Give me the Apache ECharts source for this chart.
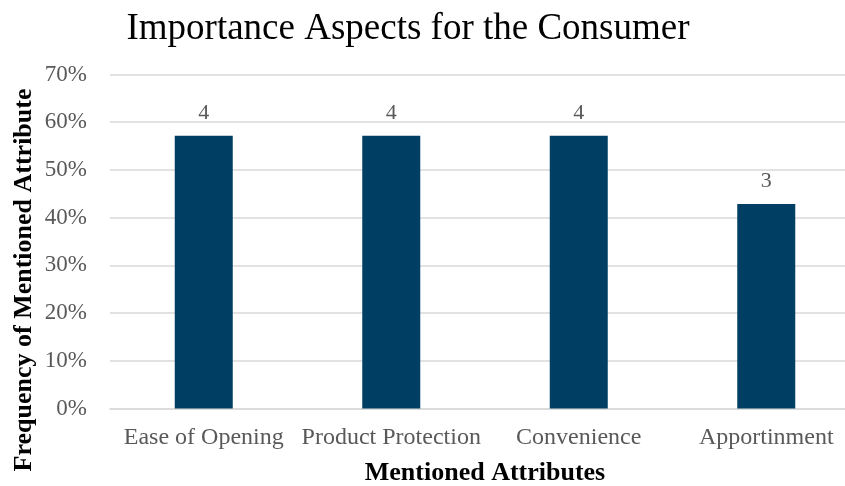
<!DOCTYPE html>
<html>
<head>
<meta charset="utf-8">
<script src="https://cdn.jsdelivr.net/npm/echarts@6/dist/echarts.min.js"></script>
<style>
  html, body { margin: 0; padding: 0; background: #ffffff; }
  #chart { width: 845px; height: 486px; }
</style>
</head>
<body>
<div id="chart"></div>
<script>
// Attributes mentioned by respondents
const categories = ['Ease of Opening', 'Product Protection', 'Convenience', 'Apportinment'];
// Share of respondents mentioning each attribute (%)
const shares = [57.14, 57.14, 57.14, 42.86];
// Number of mentions shown above each bar
const mentions = [4, 4, 4, 3];
const yTicks = [0, 10, 20, 30, 40, 50, 60, 70];

const serif = '"Liberation Serif", "Times New Roman", serif';
const chart = echarts.init(document.getElementById('chart'), null, { renderer: 'canvas' });

chart.setOption({
  backgroundColor: '#ffffff',
  animation: false,
  title: {
    text: 'Importance Aspects for the Consumer',
    left: 403,
    textAlign: 'center',
    top: 6,
    textStyle: { fontFamily: serif, fontSize: 37, fontWeight: 'normal', color: '#000000' }
  },
  grid: {
    left: 110, top: 74.5, width: 750, height: 334,
    outerBoundsMode: 'none', containLabel: false
  },
  // Axis titles placed as free text
  graphic: [
    {
      type: 'text',
      x: 485, y: 473,
      style: {
        text: 'Mentioned Attributes',
        font: 'bold 26px ' + serif,
        fill: '#000000',
        align: 'center',
        verticalAlign: 'middle'
      }
    },
    {
      type: 'text',
      x: 24, y: 280,
      rotation: Math.PI / 2,
      style: {
        text: 'Frequency of Mentioned Attribute',
        font: 'bold 26px ' + serif,
        fill: '#000000',
        align: 'center',
        verticalAlign: 'middle'
      }
    }
  ],
  xAxis: {
    type: 'category',
    data: categories,
    axisLine: { show: true, lineStyle: { color: '#d9d9d9', width: 1.5 } },
    axisTick: { show: false },
    axisLabel: { interval: 0, hideOverlap: false, fontFamily: serif, fontSize: 24, color: '#595959', margin: 17 }
  },
  yAxis: {
    type: 'value',
    min: yTicks[0],
    max: yTicks[yTicks.length - 1],
    interval: 10,
    axisLine: { show: false },
    axisTick: { show: false },
    axisLabel: { fontFamily: serif, fontSize: 23, color: '#595959', margin: 23, formatter: v => v + '%' },
    splitLine: { lineStyle: { color: '#d9d9d9', width: 1.5 } }
  },
  series: [{
    type: 'bar',
    data: shares.map((v, i) => ({ value: v, mention: mentions[i] })),
    barWidth: 58,
    itemStyle: { color: '#003f63' },
    label: {
      show: true,
      position: 'top',
      distance: 12,
      fontFamily: serif,
      fontSize: 22,
      color: '#595959',
      formatter: p => String(p.data.mention)
    }
  }]
});
</script>
</body>
</html>
